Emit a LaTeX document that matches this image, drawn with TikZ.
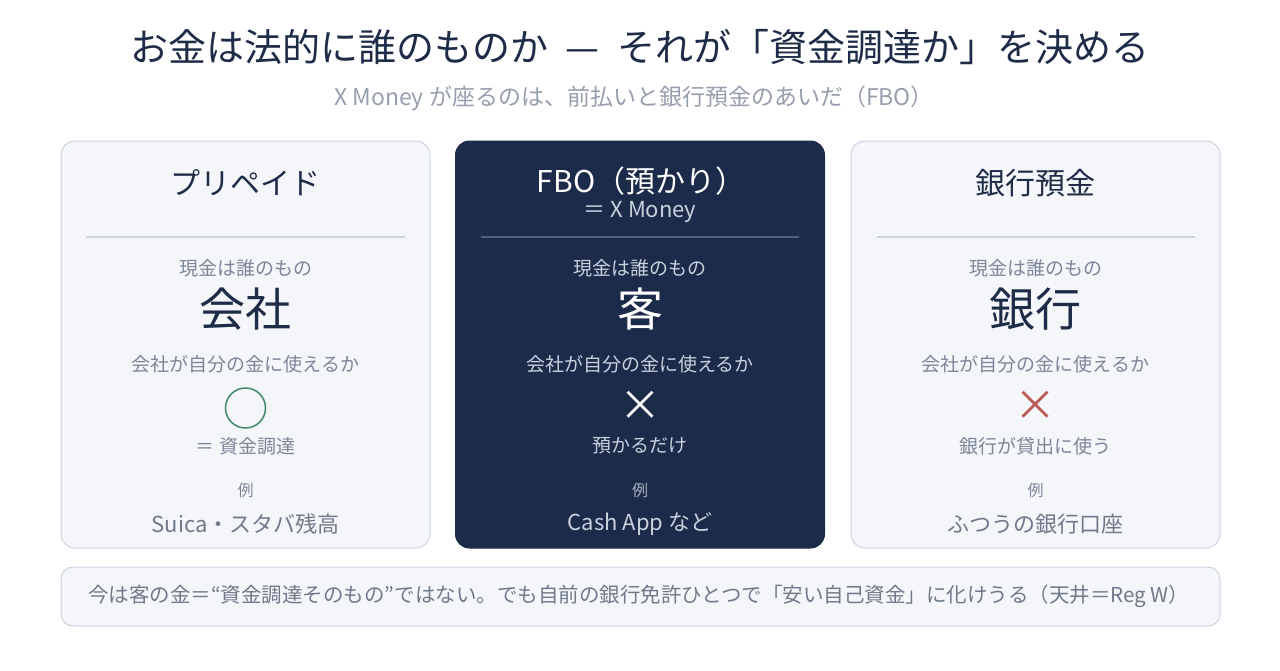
\documentclass[tikz,border=0pt]{standalone}
\usepackage{fontspec}
\setmainfont{Noto Sans CJK JP}
\usepackage{xcolor}
\usetikzlibrary{positioning}

\definecolor{inkdark}{HTML}{1F2C48}
\definecolor{inkgray}{HTML}{7D8699}
\definecolor{cardbg}{HTML}{F4F6FA}
\definecolor{cardline}{HTML}{CDD4DF}
\definecolor{navy}{HTML}{1C2B4A}
\definecolor{navyline}{HTML}{4C6182}
\definecolor{navytext}{HTML}{C9D1DE}
\definecolor{okgreen}{HTML}{3F8A6B}
\definecolor{ngred}{HTML}{B85A55}

\begin{document}
\begin{tikzpicture}[x=1pt,y=-1pt]

\tikzset{card/.style={draw=cardline, fill=cardbg, line width=1pt,
    rounded corners=14pt, minimum width=369pt, minimum height=407pt},
  darkcard/.style={card, draw=navy, fill=navy},
  cardtitle/.style={font=\fontsize{30}{33}\selectfont, text=inkdark, inner sep=0pt},
  sepline/.style={draw=cardline, line width=1.2pt},
  small/.style={font=\fontsize{19}{21}\selectfont, text=inkgray, inner sep=0pt},
  big/.style={font=\fontsize{46}{50}\selectfont, text=inkdark, inner sep=0pt},
  example/.style={font=\fontsize{22}{25}\selectfont, text=inkgray!90!black, inner sep=0pt},
  tiny/.style={font=\fontsize{16}{18}\selectfont, text=inkgray, inner sep=0pt}
}

\useasboundingbox (0,0) rectangle (1280,670);

% heading
\node[font=\fontsize{38}{41}\selectfont, text=inkdark] (title) at (640,47)
  {お金は法的に誰のものか\hspace{0.45em}—\hspace{0.45em}それが「資金調達か」を決める};
\node[font=\fontsize{23}{26}\selectfont, text=inkgray!80] (subtitle) at (634,98)
  {X Money が座るのは、前払いと銀行預金のあいだ（FBO）};

% cards
\node[card] (prepaid) at (245.5,344.5) {};
\node[darkcard] (fbo) at (640,344.5) {};
\node[card] (deposit) at (1035.5,344.5) {};

% prepaid
\node[cardtitle] (pp-title) at (245.5,183) {プリペイド};
\draw[sepline] (86,237) -- (405,237);
\node[small] (pp-who) at (245.5,268) {現金は誰のもの};
\node[big] (pp-owner) at (245.5,309) {会社};
\node[small] (pp-use) at (245.5,364) {会社が自分の金に使えるか};
\node[circle, draw=okgreen, line width=1.5pt, minimum size=40pt] (pp-mark) at (245.5,408) {};
\node[small] (pp-note) at (245.5,446) {＝ 資金調達};
\node[tiny] (pp-ex) at (245.5,490) {例};
\node[example] (pp-case) at (245.5,524) {Suica・スタバ残高};

% fbo
\node[cardtitle, text=white] (fbo-title) at (641,181) {FBO（預かり）};
\node[font=\fontsize{22}{24}\selectfont, text=navytext, inner sep=0pt] (fbo-alias) at (640,212) {＝ X Money};
\draw[sepline, draw=navyline] (481,237) -- (799,237);
\node[small, text=navytext] (fbo-who) at (640,268) {現金は誰のもの};
\node[big, text=white] (fbo-owner) at (640,309) {客};
\node[small, text=navytext] (fbo-use) at (640,364) {会社が自分の金に使えるか};
\node[font=\fontsize{42}{44}\selectfont, text=white, inner sep=0pt] (fbo-mark) at (640,406) {×};
\node[small, text=navytext] (fbo-note) at (640,446) {預かるだけ};
\node[tiny, text=navytext!80!navy] (fbo-ex) at (640,490) {例};
\node[example, text=navytext] (fbo-case) at (640,524) {Cash App など};

% deposit
\node[cardtitle] (dp-title) at (1035.5,183) {銀行預金};
\draw[sepline] (877,237) -- (1195,237);
\node[small] (dp-who) at (1035.5,268) {現金は誰のもの};
\node[big] (dp-owner) at (1035.5,309) {銀行};
\node[small] (dp-use) at (1035.5,364) {会社が自分の金に使えるか};
\node[font=\fontsize{42}{44}\selectfont, text=ngred, inner sep=0pt] (dp-mark) at (1035.5,406) {×};
\node[small] (dp-note) at (1035.5,446) {銀行が貸出に使う};
\node[tiny] (dp-ex) at (1035.5,490) {例};
\node[example] (dp-case) at (1035.5,524) {ふつうの銀行口座};

% footer
\node[draw=cardline, fill=cardbg, line width=1pt, rounded corners=12pt,
  minimum width=1159pt, minimum height=59pt] (footer) at (640.5,596.5) {};
\node[font=\fontsize{20.5}{23}\selectfont, text=inkgray!90!black, anchor=west, inner sep=0pt]
  (footer-text) at (88,596) {今は客の金＝“資金調達そのもの”ではない。でも自前の銀行免許ひとつで「安い自己資金」に化けうる（天井＝Reg W）};

\end{tikzpicture}
\end{document}
